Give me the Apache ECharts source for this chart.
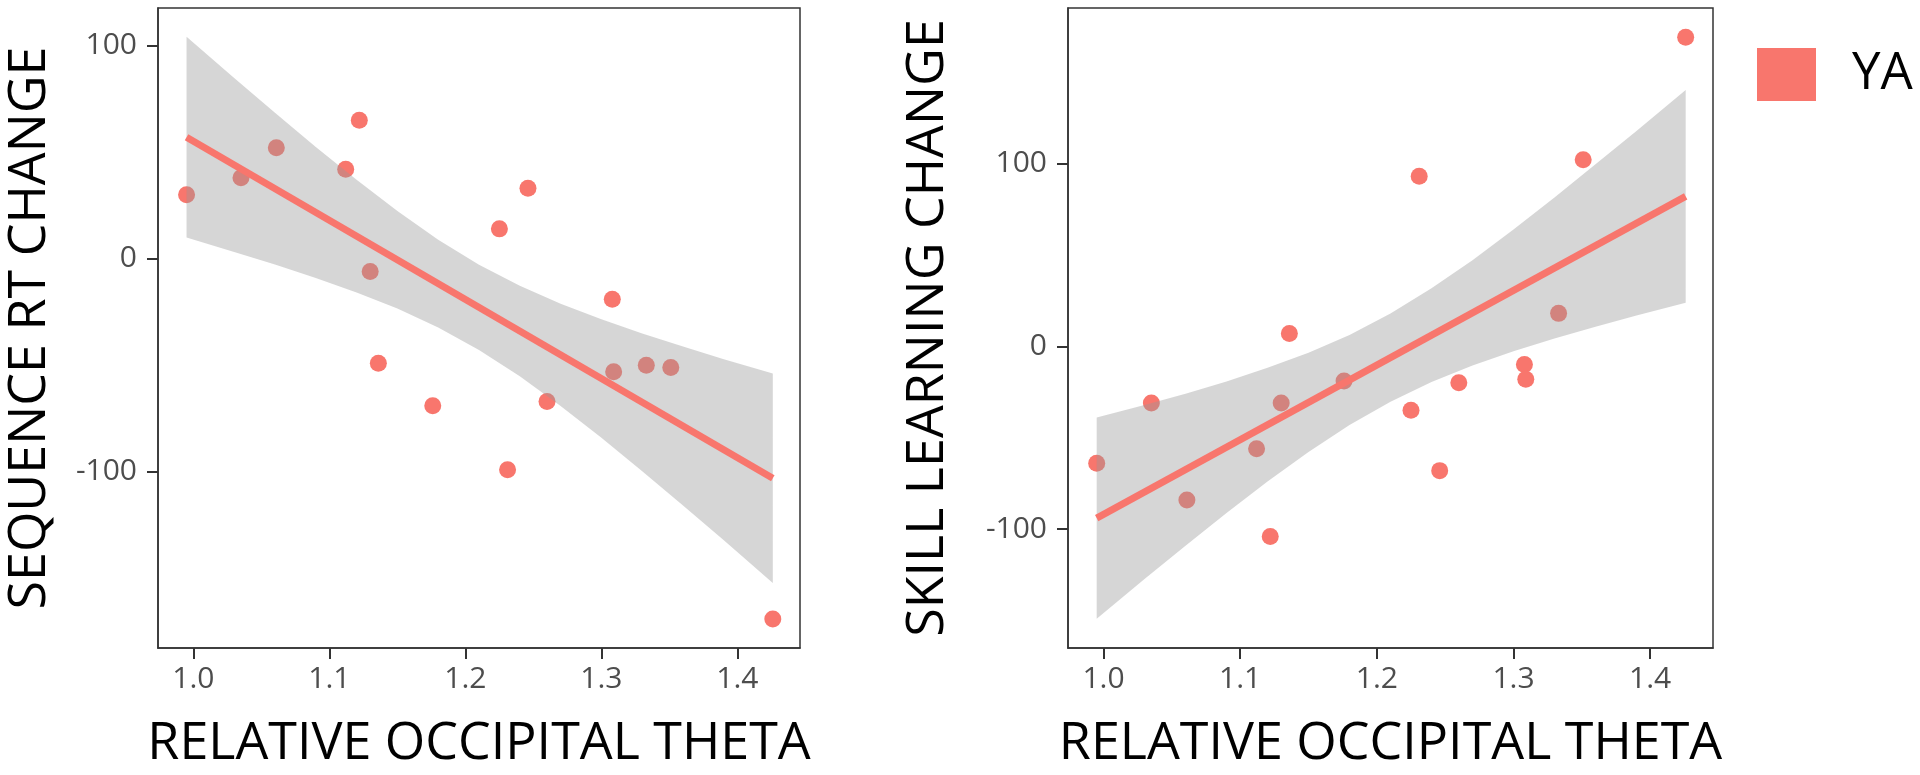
<!DOCTYPE html>
<html>
<head>
<meta charset="utf-8">
<script src="https://cdn.jsdelivr.net/npm/echarts/dist/echarts.min.js"></script>
<style>
  html, body { margin: 0; padding: 0; background: #ffffff; }
  #chart { width: 1920px; height: 775px; }
</style>
</head>
<body>
<div id="chart"></div>
<script>
// Relative occipital theta (shared by both panels)
const thetaX = [0.995, 1.035, 1.061, 1.112, 1.122, 1.130, 1.136, 1.176, 1.225, 1.231, 1.246, 1.260, 1.308, 1.309, 1.333, 1.351, 1.426];
// Left panel: sequence RT change
const seqRT = [30, 38, 52, 42, 65, -6, -49, -69, 14, -99, 33, -67, -19, -53, -50, -51, -169];
// Right panel: skill learning change
const skillChange = [-64, -31, -84, -56, -104, -31, 7, -19, -35, 93, -68, -20, -10, -18, 18, 102, 169];

// Fitted lines
const fitX = [0.995, 1.426];
const seqFit = [57, -103];
const skillFit = [-94, 82];

// Confidence bands
const bandX = [0.995, 1.03, 1.06, 1.09, 1.12, 1.15, 1.18, 1.21, 1.24, 1.27, 1.30, 1.33, 1.36, 1.39, 1.426];
const seqUpper = [104.1, 84.8, 68.5, 52.4, 37.0, 22.4, 8.9, -2.8, -12.7, -21.1, -28.4, -35.1, -41.2, -47.1, -53.9];
const seqLower = [9.9, 3.2, -2.7, -9.0, -15.8, -23.4, -32.3, -42.8, -55.1, -69.1, -84.0, -99.7, -115.8, -132.1, -152.1];
const skillUpper = [-39.0, -32.1, -25.9, -19.2, -11.8, -3.6, 6.2, 17.9, 31.7, 47.1, 63.9, 81.4, 99.5, 117.8, 140.2];
const skillLower = [-149.0, -127.3, -109.1, -91.2, -74.0, -57.8, -43.0, -30.3, -19.5, -10.5, -2.7, 4.2, 10.7, 16.8, 23.8];

// Tick labels
const xTicks = [1.0, 1.1, 1.2, 1.3, 1.4];
const yTicks = [-100, 0, 100];

const xTitle = 'RELATIVE OCCIPITAL THETA';
const yTitleLeft = 'SEQUENCE RT CHANGE';
const yTitleRight = 'SKILL LEARNING CHANGE';
const groupName = 'YA';

const COLOR = '#F8766D';
const FONT = 'Open Sans';
const TITLE_SIZE = 52;

function xAxisCfg(gi) {
  return {
    type: 'value', gridIndex: gi, min: 0.974, max: 1.446,
    axisLine: { show: true, onZero: false, lineStyle: { color: '#333333', width: 1.5 } },
    axisTick: { show: true, length: 11, customValues: xTicks, lineStyle: { color: '#333333', width: 2 } },
    axisLabel: { customValues: xTicks, formatter: v => v.toFixed(1), fontSize: 30, color: '#4d4d4d', fontFamily: FONT, margin: 16 },
    splitLine: { show: false },
    name: xTitle, nameLocation: 'middle', nameGap: 70,
    nameTextStyle: { fontSize: TITLE_SIZE, color: '#000000', fontFamily: FONT }
  };
}
function yAxisCfg(gi, min, max, title, gap) {
  return {
    type: 'value', gridIndex: gi, min: min, max: max,
    axisLine: { show: true, onZero: false, lineStyle: { color: '#333333', width: 1.5 } },
    axisTick: { show: true, length: 11, customValues: yTicks, lineStyle: { color: '#333333', width: 2 } },
    axisLabel: { customValues: yTicks, fontSize: 30, color: '#4d4d4d', fontFamily: FONT, margin: 21 },
    splitLine: { show: false },
    name: title, nameLocation: 'middle', nameGap: gap,
    nameTextStyle: { fontSize: TITLE_SIZE, color: '#000000', fontFamily: FONT }
  };
}
function bandSeries(gi, upper, lower) {
  return {
    type: 'custom', xAxisIndex: gi, yAxisIndex: gi, silent: true, z: 3,
    data: [[1.2, 0]],
    renderItem: function (params, api) {
      const pts = [];
      for (let i = 0; i < bandX.length; i++) pts.push(api.coord([bandX[i], upper[i]]));
      for (let i = bandX.length - 1; i >= 0; i--) pts.push(api.coord([bandX[i], lower[i]]));
      return { type: 'polygon', shape: { points: pts }, style: { fill: 'rgba(153,153,153,0.4)', stroke: null } };
    }
  };
}
function lineSeries(gi, ys) {
  return {
    type: 'line', xAxisIndex: gi, yAxisIndex: gi, z: 4, silent: true,
    symbol: 'none', data: fitX.map((x, i) => [x, ys[i]]),
    lineStyle: { color: COLOR, width: 7 }
  };
}
function scatterSeries(gi, ys) {
  return {
    name: groupName, type: 'scatter', xAxisIndex: gi, yAxisIndex: gi, z: 2,
    symbolSize: 17, data: thetaX.map((x, i) => [x, ys[i]]),
    itemStyle: { color: COLOR, opacity: 1 }
  };
}

const chart = echarts.init(document.getElementById('chart'), null, { renderer: 'canvas' });
chart.setOption({
  backgroundColor: '#ffffff',
  animation: false,
  legend: {
    data: [groupName], left: 1757, top: 48, padding: 0,
    icon: 'rect', itemWidth: 59, itemHeight: 53,
    textStyle: { fontSize: 51, color: '#000000', fontFamily: FONT, padding: [0, 0, 0, 31] }
  },
  grid: [
    { left: 158, top: 8, width: 642, height: 644, show: true, borderColor: '#333333', borderWidth: 1.5, backgroundColor: '#ffffff' },
    { left: 1068, top: 8, width: 645, height: 644, show: true, borderColor: '#333333', borderWidth: 1.5, backgroundColor: '#ffffff' }
  ],
  xAxis: [xAxisCfg(0), xAxisCfg(1)],
  yAxis: [
    yAxisCfg(0, -182.6, 117.6, yTitleLeft, 102),
    yAxisCfg(1, -165, 185, yTitleRight, 114)
  ],
  series: [
    scatterSeries(0, seqRT), bandSeries(0, seqUpper, seqLower), lineSeries(0, seqFit),
    scatterSeries(1, skillChange), bandSeries(1, skillUpper, skillLower), lineSeries(1, skillFit)
  ]
});
</script>
</body>
</html>
